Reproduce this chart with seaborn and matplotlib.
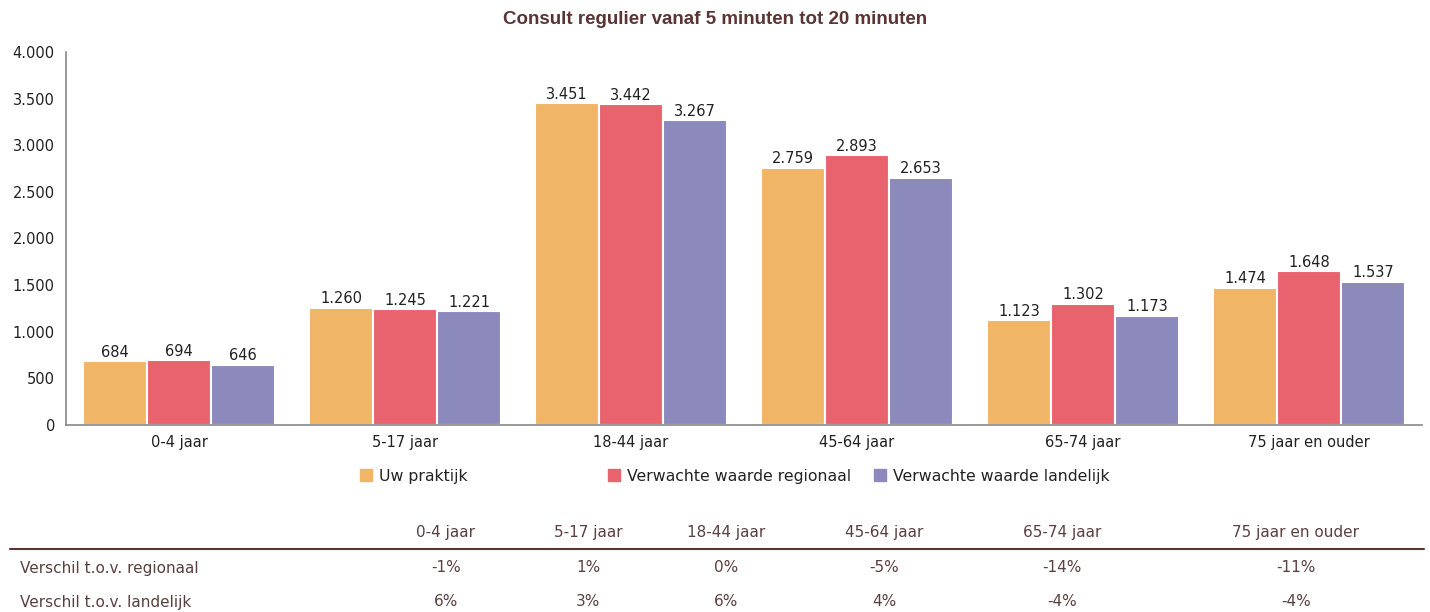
import matplotlib
matplotlib.use("Agg")
import matplotlib.pyplot as plt
import seaborn as sns
import pandas as pd
from matplotlib.lines import Line2D
from matplotlib.patches import Patch

categories = ["0-4 jaar", "5-17 jaar", "18-44 jaar", "45-64 jaar", "65-74 jaar", "75 jaar en ouder"]
series_names = ["Uw praktijk", "Verwachte waarde regionaal", "Verwachte waarde landelijk"]
uw_praktijk = [684, 1260, 3451, 2759, 1123, 1474]
regionaal = [694, 1245, 3442, 2893, 1302, 1648]
landelijk = [646, 1221, 3267, 2653, 1173, 1537]
colors = ["#F0B567", "#E9636E", "#8C89BD"]
yticks = [0, 500, 1000, 1500, 2000, 2500, 3000, 3500, 4000]
table_header = ["0-4 jaar", "5-17 jaar", "18-44 jaar", "45-64 jaar", "65-74 jaar", "75 jaar en ouder"]
row_labels = ["Verschil t.o.v. regionaal", "Verschil t.o.v. landelijk"]
verschil_regionaal = ["-1%", "1%", "0%", "-5%", "-14%", "-11%"]
verschil_landelijk = ["6%", "3%", "6%", "4%", "-4%", "-4%"]
title = "Consult regulier vanaf 5 minuten tot 20 minuten"

sns.set_theme(style="white")
plt.rcParams["font.family"] = ["DejaVu Sans"]

df = pd.DataFrame({
    "cat": categories * 3,
    "serie": [series_names[0]] * 6 + [series_names[1]] * 6 + [series_names[2]] * 6,
    "val": uw_praktijk + regionaal + landelijk,
})

fig = plt.figure(figsize=(14.3, 6.12), dpi=100)
ax = fig.add_axes([66 / 1430, 1 - 425 / 612, (1422 - 66) / 1430, (425 - 52) / 612])
sns.barplot(data=df, x="cat", y="val", hue="serie", order=categories, hue_order=series_names,
            palette=colors, width=0.85, ax=ax, legend=False, edgecolor="white", linewidth=1.5,
            saturation=1)

def fmt(v):
    return f"{v:,}".replace(",", ".")

for cont in ax.containers:
    ax.bar_label(cont, labels=[fmt(int(b.get_height())) for b in cont], padding=1,
                 fontsize=10.5, color="#222222")

ax.set_xlim(-0.5, 5.5)
ax.set_ylim(0, 4000)
ax.set_yticks(yticks)
ax.set_yticklabels([fmt(t) for t in yticks], fontsize=10.5, color="#222222")
ax.tick_params(axis="x", labelsize=10.5, colors="#222222", length=0, pad=7)
ax.tick_params(axis="y", length=0, pad=8)
ax.set_xlabel("")
ax.set_ylabel("")
for s in ["top", "right"]:
    ax.spines[s].set_visible(False)
for s in ["left", "bottom"]:
    ax.spines[s].set_color("#888888")
    ax.spines[s].set_linewidth(1.2)

fig.text(0.5, 1 - 20 / 612, title, ha="center", va="center", fontsize=13.5,
         fontweight="bold", color="#5B3434", family=["Liberation Sans", "DejaVu Sans"])

# Legend (three separate entries, Excel-style)
leg_x = [360 / 1430, 608 / 1430, 874 / 1430]
for name, c, lx in zip(series_names, colors, leg_x):
    leg = fig.legend(handles=[Patch(facecolor=c, edgecolor=c)], labels=[name],
                     loc="center left", bbox_to_anchor=(lx, 1 - 476 / 612), frameon=False,
                     fontsize=11.3, handlelength=0.75, handleheight=0.75, handletextpad=0.45,
                     borderaxespad=0, borderpad=0)
    for t in leg.get_texts():
        t.set_color("#222222")

# Table
col_x = [446, 588, 726, 884, 1062, 1296]
tcolor = "#5B4040"
for x, h in zip(col_x, table_header):
    fig.text(x / 1430, 1 - 533 / 612, h, ha="center", va="center", fontsize=11, color=tcolor)
fig.add_artist(Line2D([10 / 1430, 1424 / 1430], [1 - 549 / 612, 1 - 549 / 612],
                      color="#5B3434", linewidth=1.5, transform=fig.transFigure))
for ry, lab, vals in zip([568, 602], row_labels, [verschil_regionaal, verschil_landelijk]):
    fig.text(20 / 1430, 1 - ry / 612, lab, ha="left", va="center", fontsize=11, color=tcolor)
    for x, v in zip(col_x, vals):
        fig.text(x / 1430, 1 - ry / 612, v, ha="center", va="center", fontsize=11, color=tcolor)

fig.savefig("out.png", dpi=100)
